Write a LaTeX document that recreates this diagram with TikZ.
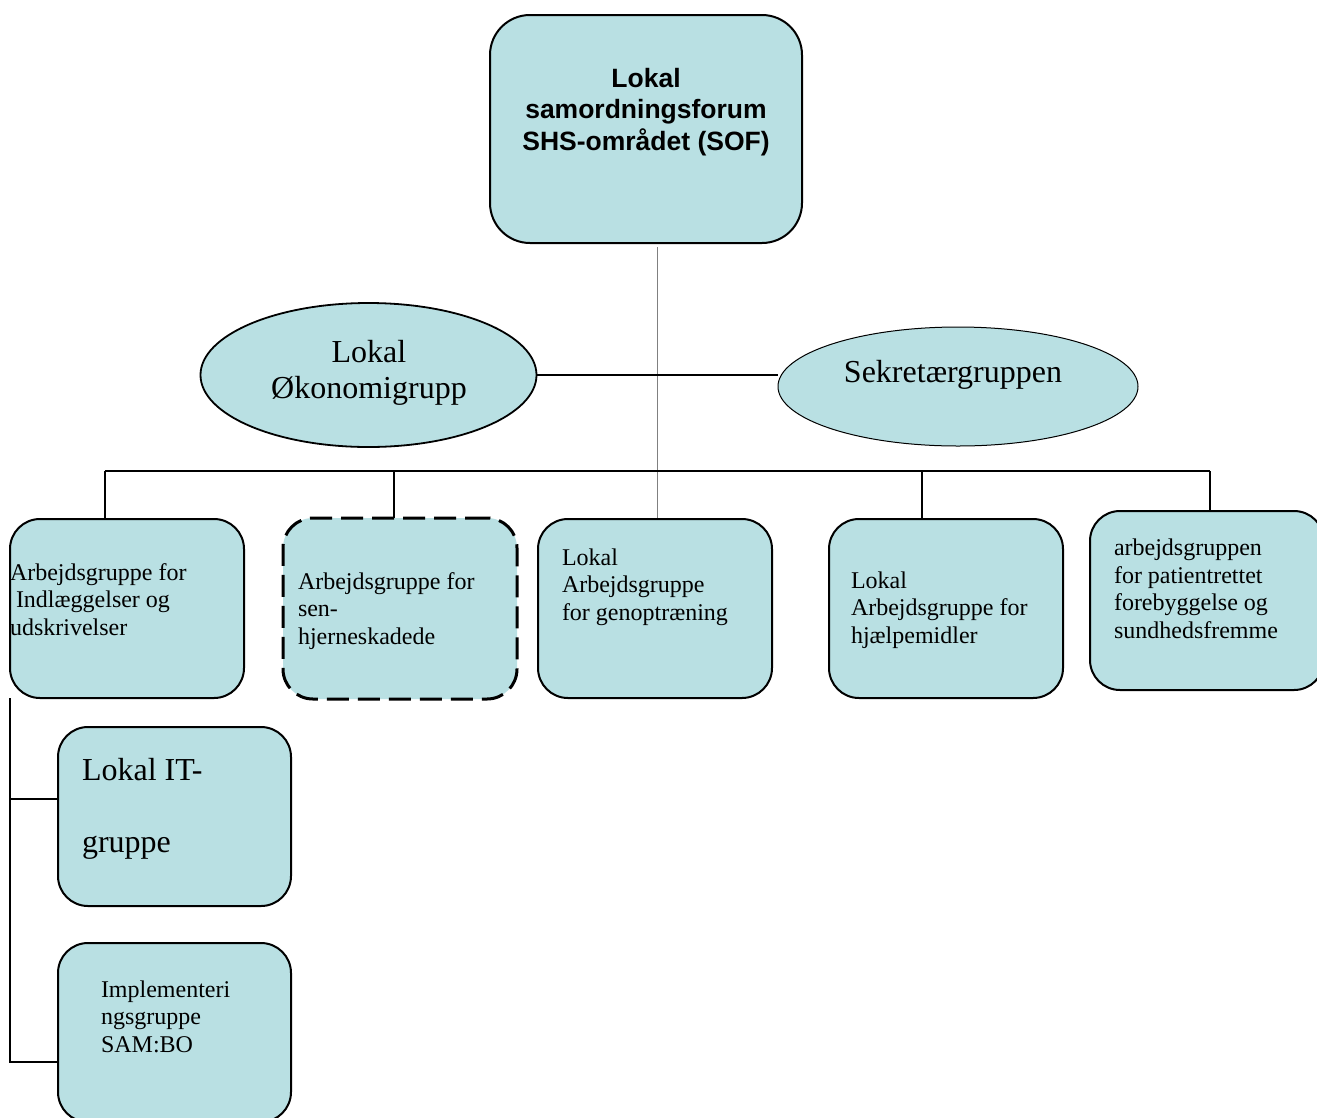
\documentclass[tikz,border=0pt]{standalone}
\usepackage{fontspec}
\setmainfont{Liberation Serif}
\newfontfamily\arialfont{Liberation Sans}
\usetikzlibrary{shapes.geometric,backgrounds}
\definecolor{boxfill}{RGB}{185,224,227}
\begin{document}
\begin{tikzpicture}[x=1pt,y=-1pt,
  box/.style={draw=black, line width=2pt, fill=boxfill, rounded corners=30pt,
    minimum width=234pt, minimum height=179pt, anchor=north west,
    inner sep=0pt, outer sep=0pt},
  dashbox/.style={box, line width=3pt, dash pattern=on 22pt off 9pt},
  ell/.style={ellipse, draw=black, fill=boxfill, inner sep=0pt, outer sep=0pt},
  txt/.style={inner sep=0pt, outer sep=0pt, align=left, anchor=base west,
    font=\fontsize{24}{27.5}\selectfont},
  big/.style={inner sep=0pt, outer sep=0pt, align=center, anchor=base,
    font=\fontsize{32}{36}\selectfont},
  conn/.style={draw=black, line width=2pt},
  thinconn/.style={draw=black, line width=1.3pt},
]
\useasboundingbox (0,0) rectangle (1317,1117);

% top box (text nodes are placed by the baseline of their last line)
\node[box, minimum width=312pt, minimum height=228pt, rounded corners=40pt] (sof) at (490,15) {};
\node[inner sep=0pt, outer sep=0pt, align=center, anchor=base,
  font=\arialfont\bfseries\fontsize{26.5}{31.2}\selectfont] (sofT) at (646,150)
  {Lokal\\samordningsforum\\SHS-området (SOF)};

% ellipses
\node[ell, line width=1.8pt, minimum width=336pt, minimum height=144pt] (oek) at (368.5,375) {};
\node[big] (oekT) at (369,398) {Lokal\\Økonomigrupp};
\node[ell, line width=1pt, minimum width=360pt, minimum height=119pt] (sek) at (958,386.5) {};
\node[big] (sekT) at (953,382) {Sekretærgruppen};

% working groups
\node[box] (b1) at (10,519) {};
\node[txt] (b1T) at (10,635) {Arbejdsgruppe for\\\ Indlæggelser og\\udskrivelser};
\node[dashbox, minimum height=181pt] (b2) at (283,518) {};
\node[txt] (b2T) at (298,644) {Arbejdsgruppe for\\sen-\\hjerneskadede};
\node[box] (b3) at (538,519) {};
\node[txt] (b3T) at (562,620) {Lokal\\Arbejdsgruppe\\for genoptræning};
\node[box] (b4) at (829,519) {};
\node[txt] (b4T) at (851,643) {Lokal\\Arbejdsgruppe for\\hjælpemidler};
\node[box] (b5) at (1090,511) {};
\node[txt] (b5T) at (1114,638) {arbejdsgruppen\\for patientrettet\\forebyggelse og\\sundhedsfremme};

% sub groups
\node[box, minimum width=233pt] (it) at (58,727) {};
\node[txt, font=\fontsize{32}{72}\selectfont] (itT) at (82,852) {Lokal IT-\\gruppe};
\node[box, minimum width=233pt] (impl) at (58,943) {};
\node[txt] (implT) at (101,1052) {Implementeri\\ngsgruppe\\SAM:BO};

% connectors
\begin{pgfonlayer}{background}
  \coordinate (g) at (657,247);
  \draw[draw=gray, line width=1pt] (g) -- (g |- b3.north);
  \draw[conn] (oek.east) -- (oek.east -| sek.west);
  \coordinate (barL) at (105,471);
  \coordinate (barR) at (1210,471);
  \coordinate (d2) at (394,471);
  \coordinate (d4) at (922,471);
  \draw[conn] (barL) -- (barR);
  \draw[conn] (barL) -- (barL |- b1.north);
  \draw[conn] (d2) -- (d2 |- b2.north);
  \draw[conn] (d4) -- (d4 |- b4.north);
  \draw[conn] (barR) -- (barR |- b5.north);
  \coordinate (j1) at (10,799);
  \coordinate (j2) at (10,1062);
  \draw[thinconn] (b1.south west) -- (j2) -- (j2 -| impl.west);
  \draw[thinconn] (j1) -- (j1 -| it.west);
\end{pgfonlayer}
\end{tikzpicture}
\end{document}
